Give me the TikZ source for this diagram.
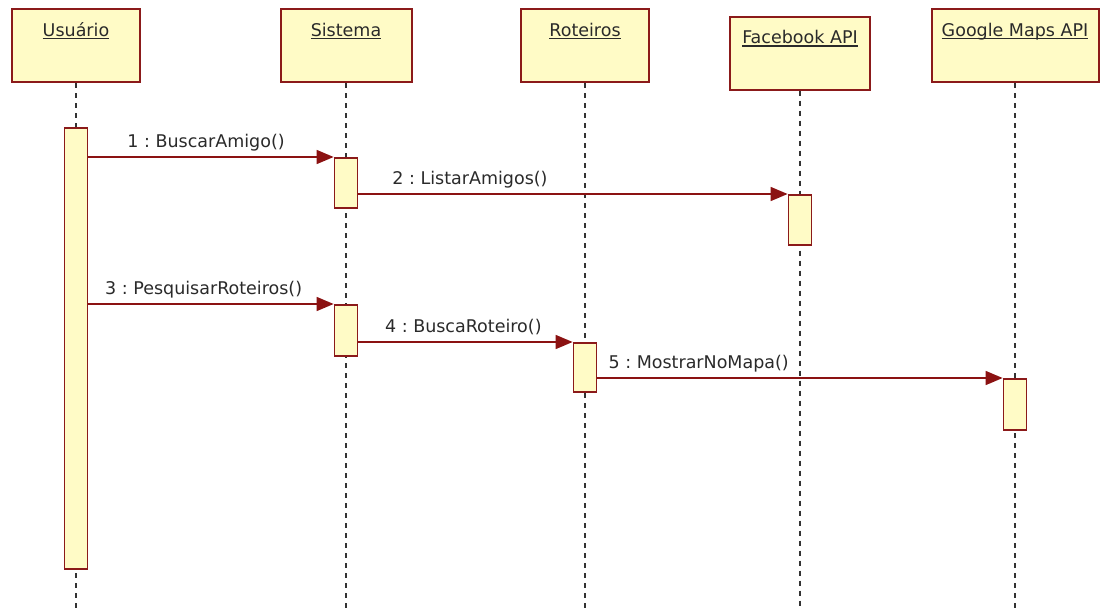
\documentclass[tikz,border=0pt]{standalone}
\usepackage{fontspec}
\setmainfont{DejaVu Sans}
\usepackage{xcolor}
\usetikzlibrary{arrows.meta}
\frenchspacing

\definecolor{umlfill}{HTML}{FFFBC6}
\definecolor{umlborder}{HTML}{8B1A1A}
\definecolor{msgred}{HTML}{8B1212}
\definecolor{txtgray}{HTML}{2A2A2A}

\newcommand{\ulname}[1]{\setbox0\hbox{#1}\rlap{\rule[-3pt]{\wd0}{1.3pt}}\box0}

\tikzset{
    obj/.style={draw=umlborder, fill=umlfill, line width=2pt, minimum width=#1,
        inner xsep=0pt, inner ysep=8pt, text height=19pt, text depth=38pt, text=txtgray},
    life/.style={draw=black!80, line width=1.8pt, dash pattern=on 5pt off 5pt},
    actbar/.style={draw=umlborder, fill=umlfill, line width=1.8pt, minimum width=23pt,
        minimum height=#1, inner sep=0pt, anchor=north},
    msg/.style={draw=msgred, line width=1.6pt, -{Triangle[length=17pt, width=14pt]}},
    msglbl/.style={text=txtgray, anchor=base, yshift=10pt, inner sep=0pt}
}

\begin{document}
\begin{tikzpicture}[x=1pt, y=-1pt, font=\fontsize{17.5}{21}\selectfont]
    \useasboundingbox (0,0) rectangle (1102,608);
    \coordinate (bottom) at (0,608);

    % objetos
    \node[obj=128pt] (usr) at (76,45.5) {\ulname{Usuário}};
    \node[obj=131pt] (sis) at (346,45.5) {\ulname{Sistema}};
    \node[obj=128pt] (rot) at (585,45.5) {\ulname{Roteiros}};
    \node[obj=140pt] (fb) at (800,53) {\ulname{Facebook API}};
    \node[obj=167pt] (gm) at (1015,45.5) {\ulname{Google Maps API}};

    % linhas de vida
    \foreach \o in {usr, sis, rot, fb, gm}
        \draw[life] (\o.south) -- (\o.south |- bottom);

    % ativacoes
    \node[actbar=441pt] (ub) at (76,127) {};
    \node[actbar=50pt] (sb1) at (346,157) {};
    \node[actbar=50pt] (fbb) at (800,194) {};
    \node[actbar=51pt] (sb2) at (346,304) {};
    \node[actbar=49pt] (rb) at (585,342) {};
    \node[actbar=51pt] (gb) at (1015,378) {};

    % mensagens
    \draw[msg] (ub.east |- sb1.north) -- (sb1.north west)
        node[msglbl, pos=0.48] {1 : BuscarAmigo()};
    \draw[msg] (sb1.east |- fbb.north) -- (fbb.north west)
        node[msglbl, pos=0.26] {2 : ListarAmigos()};
    \draw[msg] (ub.east |- sb2.north) -- (sb2.north west)
        node[msglbl, pos=0.47] {3 : PesquisarRoteiros()};
    \draw[msg] (sb2.east |- rb.north) -- (rb.north west)
        node[msglbl, pos=0.49] {4 : BuscaRoteiro()};
    \draw[msg] (rb.east |- gb.north) -- (gb.north west)
        node[msglbl, pos=0.25] {5 : MostrarNoMapa()};
\end{tikzpicture}
\end{document}
